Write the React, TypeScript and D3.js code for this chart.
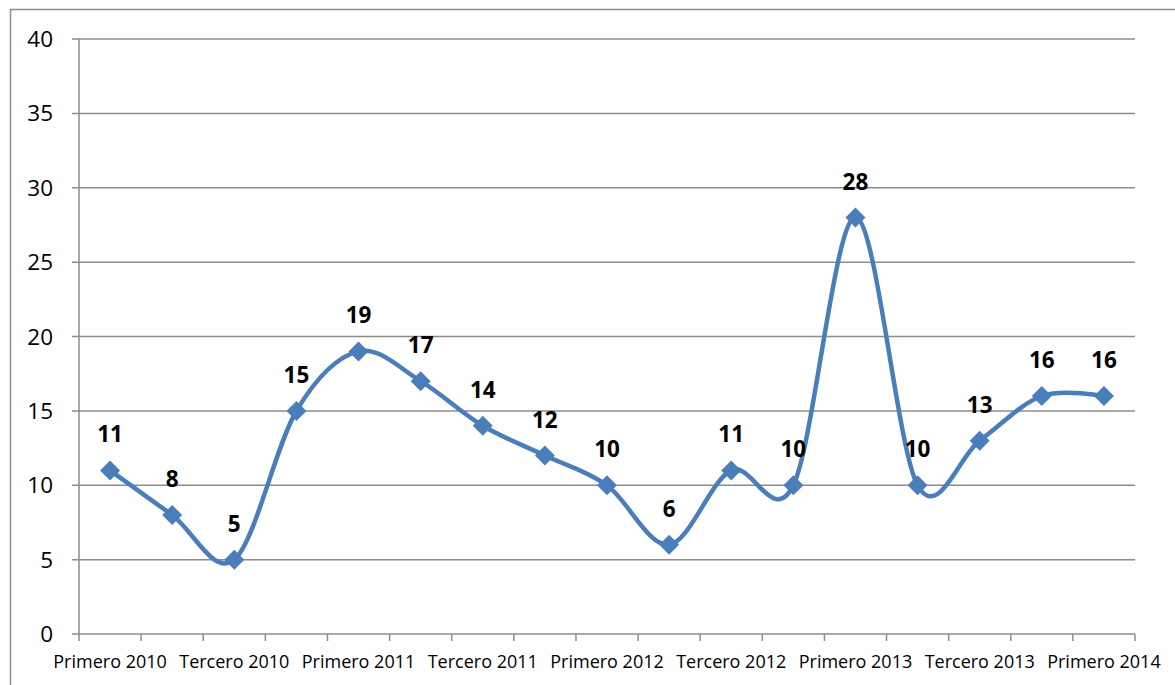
import React from "react";
import * as d3 from "d3";

const categories = [
  "Primero 2010", "Segundo 2010", "Tercero 2010", "Cuarto 2010",
  "Primero 2011", "Segundo 2011", "Tercero 2011", "Cuarto 2011",
  "Primero 2012", "Segundo 2012", "Tercero 2012", "Cuarto 2012",
  "Primero 2013", "Segundo 2013", "Tercero 2013", "Cuarto 2013",
  "Primero 2014",
];
const values = [11, 8, 5, 15, 19, 17, 14, 12, 10, 6, 11, 10, 28, 10, 13, 16, 16];
const yTicks = [0, 5, 10, 15, 20, 25, 30, 35, 40];

const W = 1175;
const H = 685;
const left = 79;
const right = 1135;
const top = 39;
const bottom = 634;
const COLOR = "#4A7EBB";
const GRID = "#8C8C8C";
const FONT = "'Open Sans', Lato, sans-serif";

export default function App() {
  const x = d3.scaleBand<string>().domain(categories).range([left, right]).padding(0);
  const y = d3.scaleLinear().domain([0, 40]).range([bottom, top]);
  const cx = (c: string) => (x(c) as number) + x.bandwidth() / 2;

  const line = d3
    .line<number>()
    .x((_, i) => cx(categories[i]))
    .y((v) => y(v))
    .curve(d3.curveCardinal.tension(0));

  const boundaries = categories.map((c) => x(c) as number).concat([right]);
  const ds = 10;

  return (
    <svg width={W} height={H} style={{ position: "absolute", left: 0, top: 0 }}>
      <rect x={0} y={0} width={W} height={H} fill="#fff" />
      <path d={`M10.5,${H + 5} L10.5,9.5 L${W + 5},9.5`} fill="none" stroke={GRID} strokeWidth={1.5} />
      {yTicks.map((t) => (
        <g key={t}>
          <line x1={left - 7} x2={right} y1={y(t)} y2={y(t)} stroke={GRID} strokeWidth={1.5} />
          <text x={53} y={y(t) + 8} textAnchor="end" fontFamily={FONT} fontSize={22.5} fill="#000">
            {t}
          </text>
        </g>
      ))}
      <line x1={left} x2={left} y1={top} y2={bottom} stroke={GRID} strokeWidth={1.5} />
      {boundaries.map((b, i) => (
        <line key={i} x1={b} x2={b} y1={bottom} y2={bottom + 7} stroke={GRID} strokeWidth={1.5} />
      ))}
      {categories.map((c, i) =>
        i % 2 === 0 ? (
          <text key={c} x={cx(c)} y={668} textAnchor="middle" fontFamily={FONT} fontSize={18} fill="#000">
            {c}
          </text>
        ) : null
      )}
      <path d={line(values) || ""} fill="none" stroke={COLOR} strokeWidth={4.5} />
      {values.map((v, i) => {
        const px = cx(categories[i]);
        const py = y(v);
        return (
          <g key={i}>
            <path
              d={`M${px},${py - ds} L${px + ds},${py} L${px},${py + ds} L${px - ds},${py} Z`}
              fill={COLOR}
            />
            <text x={px} y={py - 28} textAnchor="middle" fontFamily={FONT} fontWeight="bold" fontSize={22.5} fill="#000">
              {v}
            </text>
          </g>
        );
      })}
    </svg>
  );
}
